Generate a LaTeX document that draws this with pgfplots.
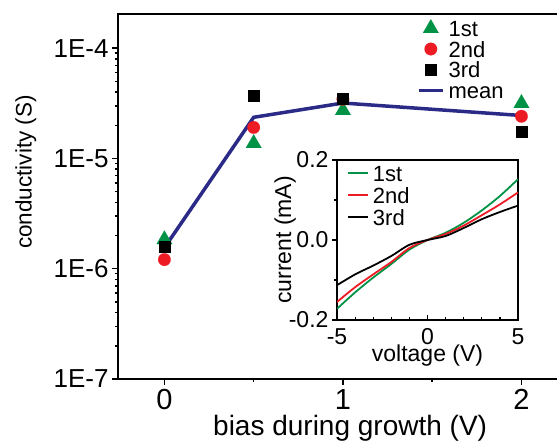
\documentclass[border=0pt]{standalone}
\usepackage{fontspec}
\setmainfont{Liberation Sans}
\usepackage{pgfplots}
\pgfplotsset{compat=1.18}

\definecolor{cgreen}{RGB}{0,146,69}
\definecolor{cred}{RGB}{237,28,36}
\definecolor{cnavy}{RGB}{43,42,135}

\pgfplotsset{
  legimg/.style={legend image code/.code={
    \draw[mark repeat=2,mark phase=2,##1] plot coordinates {(0pt,0pt) (12pt,0pt) (24pt,0pt)};}},
  legline/.style={legend image code/.code={
    \draw[##1] (0pt,0pt) -- (20pt,0pt);}},
}

\begin{document}
\begin{tikzpicture}[x=1pt,y=1pt]
\clip (0,0) rectangle (557,441);

% main plot
\begin{axis}[
    at={(118pt,62pt)}, anchor=south west,
    scale only axis, width=457pt, height=365pt,
    xmin=-0.26, xmax=2.3,
    ymode=log, ymin=1e-7, ymax=2.04e-4,
    axis line style={line width=2pt},
    tick style={line width=1.4pt, black},
    major tick length=6pt, minor tick length=3pt,
    tick align=outside,
    xtick pos=bottom, ytick pos=left,
    xtick={0,1,2}, xticklabels={0,1,2}, minor xtick={0.5,1.5},
    ytick={1e-7,1e-6,1e-5,1e-4},
    yticklabels={1E-7,1E-6,1E-5,1E-4},
    xticklabel style={font=\fontsize{29}{31}\selectfont, yshift=-1pt},
    yticklabel style={font=\fontsize{26}{28}\selectfont},
    xlabel={bias during growth (V)},
    ylabel={conductivity (S)},
    xlabel style={at={(axis description cs:0.508,-0.134)}, anchor=center,
      font=\fontsize{28}{30}\selectfont},
    ylabel style={at={(axis description cs:-0.202,0.567)}, anchor=center,
      font=\fontsize{22.5}{24}\selectfont},
    legend cell align=left,
    legend style={at={(axis description cs:0.654,0.986)}, anchor=north west,
      draw=none, fill=none, font=\fontsize{22}{24}\selectfont,
      inner sep=0pt, row sep=2.7pt, column sep=3pt,
      nodes={inner sep=1pt, text height=16pt, text depth=0pt}},
    legimg,
]
\addplot[only marks, mark=triangle*, mark size=9pt, color=cgreen,
  mark options={line width=0.1pt}]
  coordinates {(0,1.84e-6) (0.5,1.37e-5) (1,2.73e-5) (2,3.16e-5)};
\addlegendentry{1st}
\addplot[only marks, mark=*, mark size=6.3pt, color=cred,
  mark options={line width=0.1pt}]
  coordinates {(0,1.21e-6) (0.5,1.91e-5) (1,3.44e-5) (2,2.41e-5)};
\addlegendentry{2nd}
\addplot[only marks, mark=square*, mark size=5.5pt, color=black,
  mark options={line width=0.1pt}]
  coordinates {(0,1.58e-6) (0.5,3.74e-5) (1,3.5e-5) (2,1.76e-5)};
\addlegendentry{3rd}
\addplot[no marks, line width=3.5pt, color=cnavy]
  coordinates {(0,1.55e-6) (0.5,2.36e-5) (1,3.18e-5) (2,2.45e-5)};
\addlegendentry{mean}
\end{axis}

% inset I-V curves
\begin{axis}[
    at={(337pt,121pt)}, anchor=south west,
    scale only axis, width=181pt, height=160pt,
    xmin=-5, xmax=5, ymin=-0.2, ymax=0.2,
    axis line style={line width=1.6pt},
    tick style={line width=1.2pt, black},
    major tick length=5pt, minor tick length=3pt,
    xtick align=inside, ytick align=outside,
    xtick pos=bottom, ytick pos=left,
    xtick={-5,0,5}, xticklabels={-5,0,5},
    minor x tick num=4,
    ytick={-0.2,0,0.2}, yticklabels={-0.2,0.0,0.2},
    minor y tick num=1,
    ticklabel style={font=\fontsize{23}{25}\selectfont},
    xticklabel style={inner sep=0pt, yshift=-8pt},
    xlabel={voltage (V)}, ylabel={current (mA)},
    xlabel style={at={(axis description cs:0.5,-0.224)}, anchor=center,
      inner sep=0pt, font=\fontsize{23}{25}\selectfont},
    ylabel style={at={(axis description cs:-0.287,0.5)}, anchor=center,
      font=\fontsize{23}{25}\selectfont},
    legend cell align=left,
    legend style={at={(axis description cs:0.055,0.975)}, anchor=north west,
      draw=none, fill=none, font=\fontsize{22}{24}\selectfont,
      inner sep=0pt, row sep=4pt, column sep=3pt,
      nodes={inner sep=1pt, text height=16pt, text depth=0pt}},
    legline,
]
\addplot[smooth, line width=1.8pt, color=cgreen] coordinates {
  (-5,-0.172) (-4,-0.131) (-3,-0.094) (-2,-0.060) (-1,-0.024) (0,0)
  (1,0.018) (2,0.043) (3,0.074) (4,0.110) (5,0.152)};
\addlegendentry{1st}
\addplot[smooth, line width=1.8pt, color=cred] coordinates {
  (-5,-0.155) (-4,-0.118) (-3,-0.086) (-2,-0.055) (-1,-0.020) (0,0)
  (1,0.015) (2,0.036) (3,0.062) (4,0.089) (5,0.119)};
\addlegendentry{2nd}
\addplot[smooth, line width=1.8pt, color=black] coordinates {
  (-5,-0.113) (-4,-0.086) (-3,-0.064) (-2,-0.040) (-1,-0.012) (0,0)
  (1,0.010) (2,0.030) (3,0.052) (4,0.070) (5,0.086)};
\addlegendentry{3rd}
\end{axis}
\end{tikzpicture}
\end{document}
